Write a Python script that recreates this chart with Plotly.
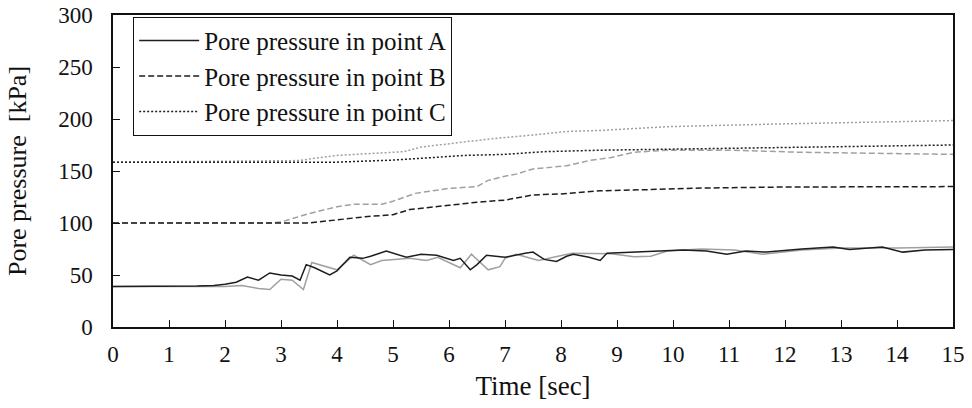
import plotly.graph_objects as go

# point A - computed (black) and measured (gray)
t_a = [0, 1.0, 1.5, 1.8, 2.0, 2.2, 2.4, 2.6, 2.8, 3.0, 3.2, 3.34, 3.45, 3.6, 3.87, 4.0, 4.23, 4.46,
       4.6, 4.88, 5.0, 5.24, 5.5, 5.78, 6.08, 6.2, 6.38, 6.5, 6.67, 7.0, 7.36, 7.5, 7.7, 7.92, 8.1,
       8.22, 8.5, 8.7, 8.82, 9.29, 10.18, 10.6, 10.96, 11.3, 11.67, 12.3, 12.86, 13.15, 13.74,
       14.1, 14.5, 15]
p_a = [39, 39, 39.5, 40, 41, 43, 48, 45, 52, 50, 49, 45, 60, 57, 50, 54, 67, 66,
       68, 73, 71, 67, 70, 69, 64, 66, 55, 60, 69, 67, 71, 72, 65, 63, 68,
       70, 67, 64, 71, 72, 74, 73, 70, 73, 72, 75, 77, 74.5, 77,
       72, 74, 74.5]
t_a2 = [0, 2.0, 2.3, 2.6, 2.8, 3.0, 3.2, 3.4, 3.55, 3.8, 4.0, 4.3, 4.6, 4.8, 5.0, 5.3, 5.6, 5.8,
        6.2, 6.4, 6.7, 6.91, 7.0, 7.2, 7.6, 8.2, 8.9, 9.3, 9.6, 9.9, 10.5, 11.1, 11.6, 12.3, 13, 14, 15]
p_a2 = [39, 39, 40, 37, 36, 46, 45, 36, 62, 58, 55, 69, 60, 64, 65, 66, 64, 67,
        57, 70, 55, 58, 66, 70, 64, 71, 70.5, 67.6, 68, 73, 75, 74, 70, 74, 76, 76, 77]

# point B
t_b = [0, 3.5, 4.0, 4.5, 5.0, 5.3, 6.0, 6.5, 7.0, 7.5, 8.0, 8.7, 9.5, 10.5, 12, 15]
p_b = [100, 100, 103, 106, 108, 113, 117, 120, 122, 127, 128, 131, 132, 133.6, 134.6, 135]
t_b2 = [0, 2.8, 3.0, 3.5, 4.0, 4.3, 4.8, 5.0, 5.4, 6.0, 6.5, 6.7, 7.0, 7.2, 7.5, 8.1, 8.5, 8.9,
        9.3, 9.9, 11.0, 12.3, 15]
p_b2 = [100, 100, 101, 109, 115.7, 118, 118, 121, 128.5, 133.3, 135, 141, 145, 147, 152, 155, 160, 163,
        168, 170, 170, 168, 166]

# point C
t_c = [0, 4.0, 5.0, 6.3, 7.0, 7.7, 8.7, 11, 15]
p_c = [158.5, 158.5, 160.5, 165, 166, 168.6, 170, 172, 175]
t_c2 = [0, 3.3, 4.0, 5.2, 5.5, 6.76, 7.5, 8.1, 8.7, 9.9, 11.7, 15]
p_c2 = [158.5, 160, 165, 168.6, 173, 181, 184.6, 188, 189, 192.6, 195, 198.5]

x_ticks = list(range(0, 16))
y_ticks = [0, 50, 100, 150, 200, 250, 300]

BLACK = '#1e1e1e'
GRAY = '#a0a0a0'
FONT = '"Liberation Serif", "Times New Roman", serif'

fig = go.Figure()
# gray ones first so black sits on top
fig.add_trace(go.Scatter(x=t_c2, y=p_c2, mode='lines', showlegend=False,
                         line=dict(color=GRAY, width=1.5, dash='2px,2px')))
fig.add_trace(go.Scatter(x=t_b2, y=p_b2, mode='lines', showlegend=False,
                         line=dict(color=GRAY, width=1.5, dash='6px,3px')))
fig.add_trace(go.Scatter(x=t_a2, y=p_a2, mode='lines', showlegend=False,
                         line=dict(color=GRAY, width=1.5)))
fig.add_trace(go.Scatter(x=t_a, y=p_a, mode='lines', name='Pore pressure in point A',
                         legendgroup='a', line=dict(color=BLACK, width=1.5)))
fig.add_trace(go.Scatter(x=t_b, y=p_b, mode='lines', name='Pore pressure in point B',
                         legendgroup='b', line=dict(color=BLACK, width=1.5, dash='6px,3px')))
fig.add_trace(go.Scatter(x=t_c, y=p_c, mode='lines', name='Pore pressure in point C',
                         legendgroup='c', line=dict(color=BLACK, width=1.5, dash='2px,2px')))

fig.update_layout(
    width=972, height=408,
    margin=dict(l=113, r=19, t=15, b=81),
    paper_bgcolor='white', plot_bgcolor='white',
    font=dict(family=FONT, color='#111', size=23),
    legend=dict(x=0.024, y=0.994, xanchor='left', yanchor='top',
                bordercolor='#111', borderwidth=1, bgcolor='white',
                font=dict(size=25, family=FONT, color='#111'), traceorder='grouped',
                tracegroupgap=0, itemwidth=60),
)
fig.update_xaxes(range=[0, 15], tickvals=x_ticks, showgrid=False, zeroline=False,
                 showline=True, linecolor='#111', linewidth=1.5, mirror=True,
                 ticks='inside', ticklen=7, tickcolor='#111', automargin=False,
                 tickfont=dict(size=23, family=FONT, color='#111'), ticklabelstandoff=6,
                 title=dict(text='Time [sec]', font=dict(size=27, family=FONT, color='#111'),
                            standoff=10))
fig.update_yaxes(range=[0, 300], tickvals=y_ticks, showgrid=False, zeroline=False,
                 showline=True, linecolor='#111', linewidth=1.5, mirror=True,
                 ticks='inside', ticklen=7, tickcolor='#111', automargin=False,
                 tickfont=dict(size=23, family=FONT, color='#111'), ticklabelstandoff=14,
                 title=dict(text='Pore pressure  [kPa]', font=dict(size=26, family=FONT, color='#111'),
                            standoff=24))

# drop the default 8px body margin so the figure fills the window
fig.write_html("out.html", config={'displayModeBar': False},
               post_script="document.body.style.margin='0';")
